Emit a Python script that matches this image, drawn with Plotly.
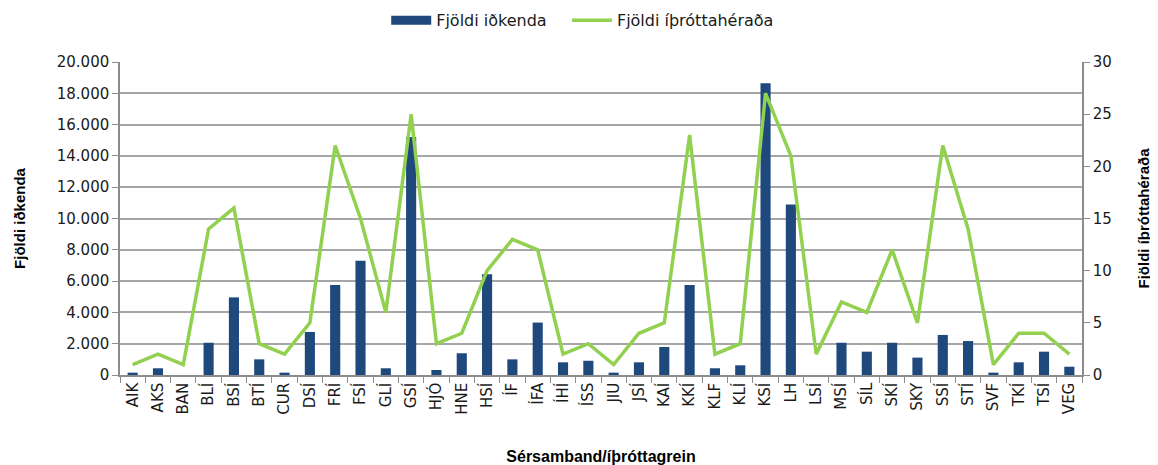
import plotly.graph_objects as go

categories = ["AIK", "AKS", "BAN", "BLÍ", "BSÍ", "BTÍ", "CUR", "DSÍ", "FRÍ", "FSÍ",
              "GLÍ", "GSÍ", "HJÓ", "HNE", "HSÍ", "ÍF", "ÍFA", "ÍHÍ", "ÍSS", "JIU",
              "JSÍ", "KAÍ", "KKÍ", "KLF", "KLÍ", "KSÍ", "LH", "LSÍ", "MSÍ", "SÍL",
              "SKÍ", "SKY", "SSÍ", "STÍ", "SVF", "TKÍ", "TSÍ", "VEG"]

idkendur = [150, 430, 0, 2060, 4960, 1000, 150, 2750, 5750, 7300,
            430, 15200, 320, 1390, 6430, 1000, 3350, 810, 910, 150,
            810, 1790, 5750, 430, 620, 18640, 10900, 0, 2060, 1490,
            2060, 1110, 2560, 2170, 150, 810, 1490, 530]

heradi = [1, 2, 1, 14, 16, 3, 2, 5, 22, 15,
          6, 25, 3, 4, 10, 13, 12, 2, 3, 1,
          4, 5, 23, 2, 3, 27, 21, 2, 7, 6,
          12, 5, 22, 14, 1, 4, 4, 2]

left_ticks = list(range(0, 20001, 2000))
right_ticks = list(range(0, 31, 5))

FONT = "DejaVu Sans"
TITLE_FONT = "Liberation Sans Narrow, Liberation Sans, Arial"
GRID = "#A6A6A6"
BLUE = "#1F497D"
GREEN = "#92D050"

fig = go.Figure()
fig.add_trace(go.Bar(
    x=categories, y=idkendur, name="Fjöldi iðkenda",
    marker=dict(color=BLUE, line=dict(width=0)),
    yaxis="y", showlegend=False,
))
# legend entry for the bars (wide rectangle swatch, as in the reference)
fig.add_trace(go.Scatter(
    x=[None], y=[None], name="Fjöldi iðkenda   ",
    mode="lines", line=dict(color=BLUE, width=9),
    yaxis="y", showlegend=True,
))
fig.add_trace(go.Scatter(
    x=categories, y=heradi, name="Fjöldi íþróttahéraða",
    mode="lines", line=dict(color=GREEN, width=3.5),
    yaxis="y2",
))

fig.update_layout(
    width=1150, height=457,
    margin=dict(l=112, r=76, t=54, b=90, autoexpand=False),
    paper_bgcolor="white", plot_bgcolor="white",
    separators=",.",
    bargap=0.6,
    font=dict(family=FONT, size=15, color="#1a1a1a"),
    showlegend=True,
    legend=dict(orientation="h", x=0.481, xanchor="center",
                yref="container", y=0.973, yanchor="middle",
                font=dict(family=FONT, size=16, color="#1a1a1a"),
                itemwidth=40, traceorder="normal"),
    xaxis=dict(
        type="category", categoryorder="array", categoryarray=categories,
        tickangle=-90, tickson="boundaries", ticks="outside", ticklen=6,
        tickcolor="#8C8C8C", showline=True, linecolor="#8C8C8C", linewidth=1.5,
        showgrid=False, automargin=False,
        tickfont=dict(family=FONT, size=15, color="#1a1a1a"),
        title=dict(text="<b>Sérsamband/íþróttagrein</b>",
                   font=dict(family=TITLE_FONT, size=16, color="#000"), standoff=42),
    ),
    yaxis=dict(
        range=[0, 20000], tickvals=left_ticks, tickformat=",d",
        ticks="outside", ticklen=6, tickcolor="#8C8C8C",
        showline=True, linecolor="#8C8C8C", linewidth=1.5,
        showgrid=True, gridcolor=GRID, gridwidth=1.5, zeroline=False,
        automargin=False,
        tickfont=dict(family=FONT, size=15, color="#1a1a1a"),
        title=dict(text="<b>Fjöldi iðkenda</b>",
                   font=dict(family=TITLE_FONT, size=15, color="#000"), standoff=28),
    ),
    yaxis2=dict(
        range=[0, 30], tickvals=right_ticks, overlaying="y", side="right",
        ticks="outside", ticklen=6, tickcolor="#8C8C8C",
        showline=True, linecolor="#8C8C8C", linewidth=1.5,
        showgrid=False, zeroline=False, automargin=False,
        tickfont=dict(family=FONT, size=15, color="#1a1a1a"),
        title=dict(text="<b>Fjöldi íþróttahéraða</b>",
                   font=dict(family=TITLE_FONT, size=15, color="#000"), standoff=28),
    ),
)

fig.write_html("out.html")
